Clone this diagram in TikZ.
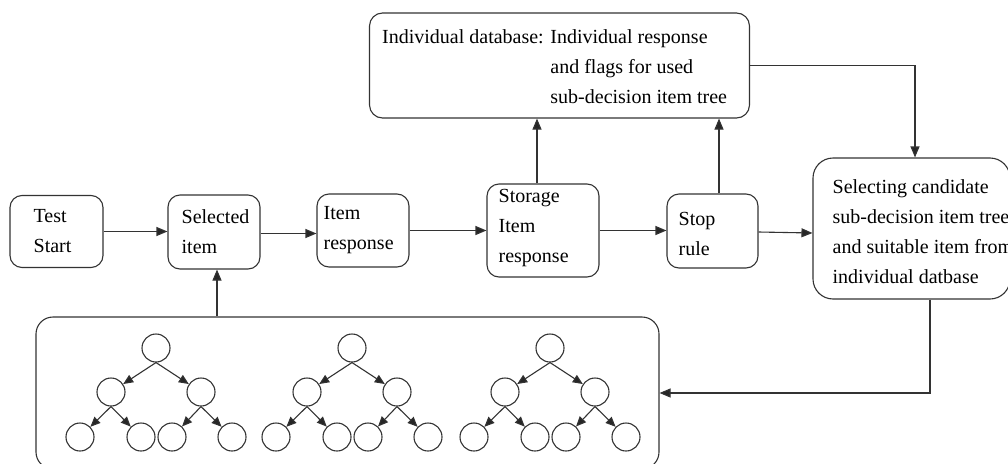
\documentclass[tikz,border=0pt]{standalone}
\usepackage{fontspec}
\setmainfont{Liberation Serif}
\usetikzlibrary{arrows.meta,calc}

\tikzset{
  lw/.style={line width=1.1pt, draw=black!80},
  procbox/.style={lw, rectangle, rounded corners=12pt, inner sep=0pt},
  label/.style={anchor=west, align=left, inner sep=0pt,
    font=\fontsize{20}{30}\selectfont},
  arr/.style={lw, -{Triangle[length=11pt,width=9pt,fill=black!85]}},
  tn/.style={lw, circle, minimum size=28pt, inner sep=0pt},
  tarr/.style={lw, -{Triangle[length=10pt,width=8.5pt,fill=black!85]}},
}

% one binary sub-decision tree: root at (#2, 348)
\newcommand{\subtree}[2]{%
  \node[tn] (#1r) at (#2,348) {};
  \node[tn] (#1a) at ($(#1r)+(-45,44)$) {};
  \node[tn] (#1b) at ($(#1r)+(45,44)$) {};
  \node[tn] (#1aa) at ($(#1r)+(-76,89)$) {};
  \node[tn] (#1ab) at ($(#1r)+(-15,89)$) {};
  \node[tn] (#1ba) at ($(#1r)+(16,89)$) {};
  \node[tn] (#1bb) at ($(#1r)+(76,89)$) {};
  \draw[tarr] (#1r.south) -- (#1a);
  \draw[tarr] (#1r.south) -- (#1b);
  \draw[tarr] (#1a.south) -- (#1aa);
  \draw[tarr] (#1a.south) -- (#1ab);
  \draw[tarr] (#1b.south) -- (#1ba);
  \draw[tarr] (#1b.south) -- (#1bb);
}

\begin{document}
\begin{tikzpicture}[x=1pt,y=-1pt]
\useasboundingbox (0,0) rectangle (1008,463);

% process boxes
\node[procbox, minimum width=93pt, minimum height=72pt] (start) at (56.5,231.5) {};
\node[procbox, minimum width=92pt, minimum height=74pt] (sel) at (214,232) {};
\node[procbox, minimum width=92pt, minimum height=73pt] (resp) at (363,230.5) {};
\node[procbox, minimum width=112pt, minimum height=93pt] (stor) at (543,230.5) {};
\node[procbox, minimum width=91pt, minimum height=74pt] (stop) at (712.5,231) {};
\node[procbox, rounded corners=20pt, minimum width=197pt, minimum height=141pt] (selc) at (911.5,228.5) {};
\node[procbox, rounded corners=13pt, minimum width=380pt, minimum height=105pt] (db) at (559.5,65.5) {};
\node[procbox, rounded corners=17pt, minimum width=623pt, minimum height=152pt] (trees) at (347.5,393) {};

% box texts
\node[label] (startT) at ($(start.west)+(24,0)$) {Test\\Start};
\node[label] (selT) at ($(sel.west)+(14,0)$) {Selected\\item};
\node[label] (respT) at ($(resp.west)+(7,0)$) {Item\\response};
\node[label] (storT) at ($(stor.west)+(12,-2)$) {Storage\\Item\\response};
\node[label] (stopT) at ($(stop.west)+(12,3)$) {Stop\\rule};
\node[label] (selcT) at ($(selc.west)+(20,3)$) {Selecting candidate\\sub-decision item tree\\and suitable item from\\individual datbase};
\node[label] (dbT) at ($(db.west)+(13,1)$) {Individual database: Individual response\\
  \phantom{Individual database: }and flags for used\\
  \phantom{Individual database: }sub-decision item tree};

% main flow
\draw[arr] (start.east) -- (start.east -| sel.west);
\draw[arr] ([yshift=-1.5]sel.east) -- ([yshift=-1.5]sel.east -| resp.west);
\draw[arr] (resp.east) -- (resp.east -| stor.west);
\draw[arr] (stor.east) -- (stor.east -| stop.west);
\draw[arr] ([yshift=-1]stop.east) -- ([yshift=-2]stop.east -| selc.west);

% to and from the individual database
\draw[arr] ([xshift=-6]stor.north) -- ([xshift=-6]stor.north |- db.south);
\draw[arr] ([xshift=6.5]stop.north) -- ([xshift=6.5]stop.north |- db.south);
\draw[arr] (db.east) -| ([xshift=3.5]selc.north);

% feedback to the item trees and item selection
\draw[arr] ([xshift=18.5]selc.south) |- (trees.east);
\draw[arr] ([xshift=3]sel.south |- trees.north) -- ([xshift=3]sel.south);

% sub-decision item trees
\subtree{ta}{156}
\subtree{tb}{352}
\subtree{tc}{550}
\end{tikzpicture}
\end{document}
